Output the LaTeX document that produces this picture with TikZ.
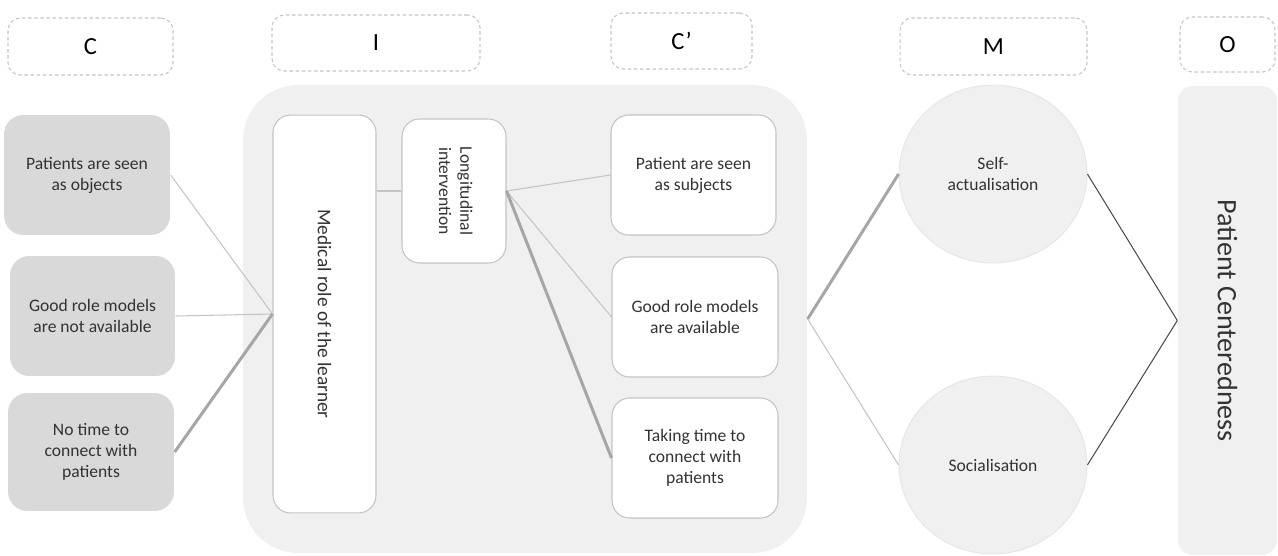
\documentclass[tikz,border=0pt]{standalone}
\usepackage{fontspec}
\setmainfont{Carlito}
\usetikzlibrary{shapes.geometric}
\definecolor{condgrey}{HTML}{D9D9D9}
\definecolor{panelgrey}{HTML}{F0F0F0}
\definecolor{edgegrey}{HTML}{C4C4C4}
\definecolor{linkgrey}{HTML}{A6A6A6}
\definecolor{txtgrey}{HTML}{333333}

\begin{document}
\begin{tikzpicture}[x=0.02cm, y=-0.02cm, thick,
		hdr/.style={draw=edgegrey, line width=0.6pt, dash pattern=on 2pt off 1.5pt,
			rounded corners=7pt, font=\fontsize{14}{16}\selectfont},
		cond/.style={fill=condgrey, rounded corners=11pt, align=center, text=txtgrey,
			font=\fontsize{10}{12}\selectfont},
		inner/.style={fill=white, draw=edgegrey, line width=0.6pt, rounded corners=10pt,
			align=center, text=txtgrey, font=\fontsize{10}{12}\selectfont},
		panel/.style={fill=panelgrey, rounded corners=1.1cm},
		mech/.style={ellipse, fill=panelgrey, draw=black!10, line width=0.5pt, align=center,
			text=txtgrey, font=\fontsize{10}{12}\selectfont,
			minimum width=3.76cm, minimum height=3.56cm},
		thinlink/.style={draw=edgegrey, line width=0.6pt},
		thicklink/.style={draw=linkgrey, line width=1.7pt},
		darklink/.style={draw=black!70, line width=0.6pt}]
		\useasboundingbox (0,0) rectangle (1278,555);
		
		% column headers
		\node[hdr, minimum width=3.30cm, minimum height=1.14cm] (hc) at (90.5,46.5) {C};
		\node[hdr, minimum width=4.16cm, minimum height=1.12cm] (hi) at (376,43) {I};
		\node[hdr, minimum width=2.82cm, minimum height=1.12cm] (hcc) at (681.5,41) {C’};
		\node[hdr, minimum width=3.74cm, minimum height=1.14cm] (hm) at (993.5,46.5) {M};
		\node[hdr, minimum width=1.90cm, minimum height=1.10cm] (ho) at (1227.5,44.5) {O};
		
		% context
		\node[cond, minimum width=3.32cm, minimum height=2.40cm] (ca) at (87,175) {Patients are seen\\as objects};
		\node[cond, minimum width=3.30cm, minimum height=2.40cm] (cb) at (92.5,316) {Good role models\\are not available};
		\node[cond, minimum width=3.32cm, minimum height=2.36cm] (cc) at (91,452) {No time to\\connect with\\patients};
		
		% intervention panel
		\node[panel, minimum width=11.28cm, minimum height=9.36cm] (ibox) at (525,319) {};
		\node[inner, minimum width=2.06cm, minimum height=7.96cm] (med) at (324.5,314)
			{\rotatebox{-90}{\fontsize{11}{13}\selectfont Medical role of the learner}};
		\node[inner, minimum width=2.08cm, minimum height=2.88cm] (lon) at (454,191)
			{\rotatebox{-90}{\begin{tabular}{@{}c@{}}Longitudinal\\intervention\end{tabular}}};
		\node[inner, minimum width=3.30cm, minimum height=2.40cm] (ra) at (693.5,175) {Patient are seen\\as subjects};
		\node[inner, minimum width=3.32cm, minimum height=2.40cm] (rb) at (695,317) {Good role models\\are available};
		\node[inner, minimum width=3.32cm, minimum height=2.40cm] (rc) at (695,458) {Taking time to\\connect with\\patients};
		
		% mechanisms and outcome
		\node[mech] (sa) at (993,174) {Self-\\actualisation};
		\node[mech] (so) at (993,465) {Socialisation};
		\node[panel, rounded corners=0.3cm, minimum width=1.98cm, minimum height=9.38cm] (pc) at (1227.5,320.5)
			{\rotatebox{-90}{\fontsize{16}{18}\selectfont\color{txtgrey}Patient Centeredness}};
		
		% links
		\draw[thinlink] (ca.east) -- (med.west);
		\draw[thinlink] (cb.east) -- (med.west);
		\draw[thicklink] (cc.east) -- (med.west);
		\draw[thinlink] (lon.west) -- (lon.west -| med.east);
		\draw[thinlink] (lon.east) -- (ra.west);
		\draw[thinlink] (lon.east) -- (rb.west);
		\draw[thicklink] (lon.east) -- (rc.west);
		\draw[thicklink] (ibox.east) -- (sa.west);
		\draw[thinlink] (ibox.east) -- (so.west);
		\draw[darklink] (sa.east) -- (pc.west);
		\draw[darklink] (so.east) -- (pc.west);
	\end{tikzpicture}
\end{document}
